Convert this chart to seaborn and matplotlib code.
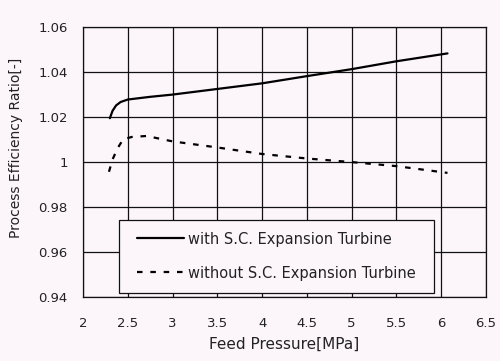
import matplotlib

matplotlib.use("Agg")

import matplotlib.pyplot as plt
import pandas as pd
import seaborn as sns
from matplotlib.patches import Rectangle

# values
pressure_with = [2.30, 2.33, 2.37, 2.42, 2.50, 2.75, 3.00, 3.50, 4.00, 4.50, 5.00, 5.50, 6.07]
ratio_with = [1.0195, 1.0228, 1.0252, 1.0267, 1.0278, 1.0290, 1.0300, 1.0325, 1.0350,
              1.0382, 1.0413, 1.0448, 1.0483]

pressure_without = [2.29, 2.33, 2.39, 2.45, 2.55, 2.71, 3.00, 3.50, 4.00, 4.50, 5.00, 5.50, 6.07]
ratio_without = [0.9957, 1.0012, 1.0064, 1.0102, 1.0112, 1.0116, 1.0092, 1.0065, 1.0036,
                 1.0016, 1.0000, 0.9982, 0.9952]

x_ticks = [2, 2.5, 3, 3.5, 4, 4.5, 5, 5.5, 6, 6.5]
x_tick_labels = ["2", "2.5", "3", "3.5", "4", "4.5", "5", "5.5", "6", "6.5"]
y_ticks = [0.94, 0.96, 0.98, 1.00, 1.02, 1.04, 1.06]
y_tick_labels = ["0.94", "0.96", "0.98", "1", "1.02", "1.04", "1.06"]

LABEL_WITH = "with S.C. Expansion Turbine"
LABEL_WITHOUT = "without S.C. Expansion Turbine"

BG = "#fcf6fa"
TEXT = "#222222"
INK = "#111111"

sns.set_theme(style="ticks")
plt.rcParams["font.family"] = ["DejaVu Sans"]

frame = pd.concat([
    pd.DataFrame({"pressure": pressure_with, "ratio": ratio_with, "case": LABEL_WITH}),
    pd.DataFrame({"pressure": pressure_without, "ratio": ratio_without, "case": LABEL_WITHOUT}),
])

fig = plt.figure(figsize=(5, 3.61), dpi=100, facecolor=BG)
ax = fig.add_axes([0.166, 0.177, 0.806, 0.748])
ax.set_facecolor(BG)

sns.lineplot(
    data=frame, x="pressure", y="ratio", hue="case", style="case",
    palette={LABEL_WITH: "black", LABEL_WITHOUT: "black"},
    dashes={LABEL_WITH: "", LABEL_WITHOUT: (2.5, 3.5)},
    linewidth=1.6, ax=ax, legend=False,
)

ax.set_xlim(2, 6.5)
ax.set_ylim(0.94, 1.06)
ax.set_xticks(x_ticks)
ax.set_xticklabels(x_tick_labels)
ax.set_yticks(y_ticks)
ax.set_yticklabels(y_tick_labels)
ax.tick_params(length=0, labelsize=9.5, colors=TEXT)
ax.tick_params(axis="x", pad=14)
ax.tick_params(axis="y", pad=11)
ax.grid(True, color=INK, linewidth=0.9)
for spine in ax.spines.values():
    spine.set_visible(True)
    spine.set_color(INK)
    spine.set_linewidth(0.9)

ax.set_xlabel("Feed Pressure[MPa]", fontsize=11, color=TEXT, labelpad=5)
ax.set_ylabel("Process Efficiency Ratio[-]", fontsize=10, color=TEXT)
ax.yaxis.set_label_coords(-0.149, 0.552)

# legend frame drawn separately so the inner padding matches the reference
ax.add_patch(Rectangle((0.089, 0.015), 0.782, 0.27, transform=ax.transAxes,
                       facecolor=BG, edgecolor=INK, linewidth=0.9, zorder=4))
handles = ax.get_lines()[:2]
leg = ax.legend(
    handles, [LABEL_WITH, LABEL_WITHOUT],
    loc="center left", bbox_to_anchor=(0.134, 0.152),
    borderaxespad=0, borderpad=0, fontsize=10.5, labelspacing=1.3,
    handlelength=3.2, handletextpad=0.3, frameon=False, labelcolor=TEXT,
)
leg.set_zorder(5)

fig.savefig("out.png", dpi=100, facecolor=BG)
